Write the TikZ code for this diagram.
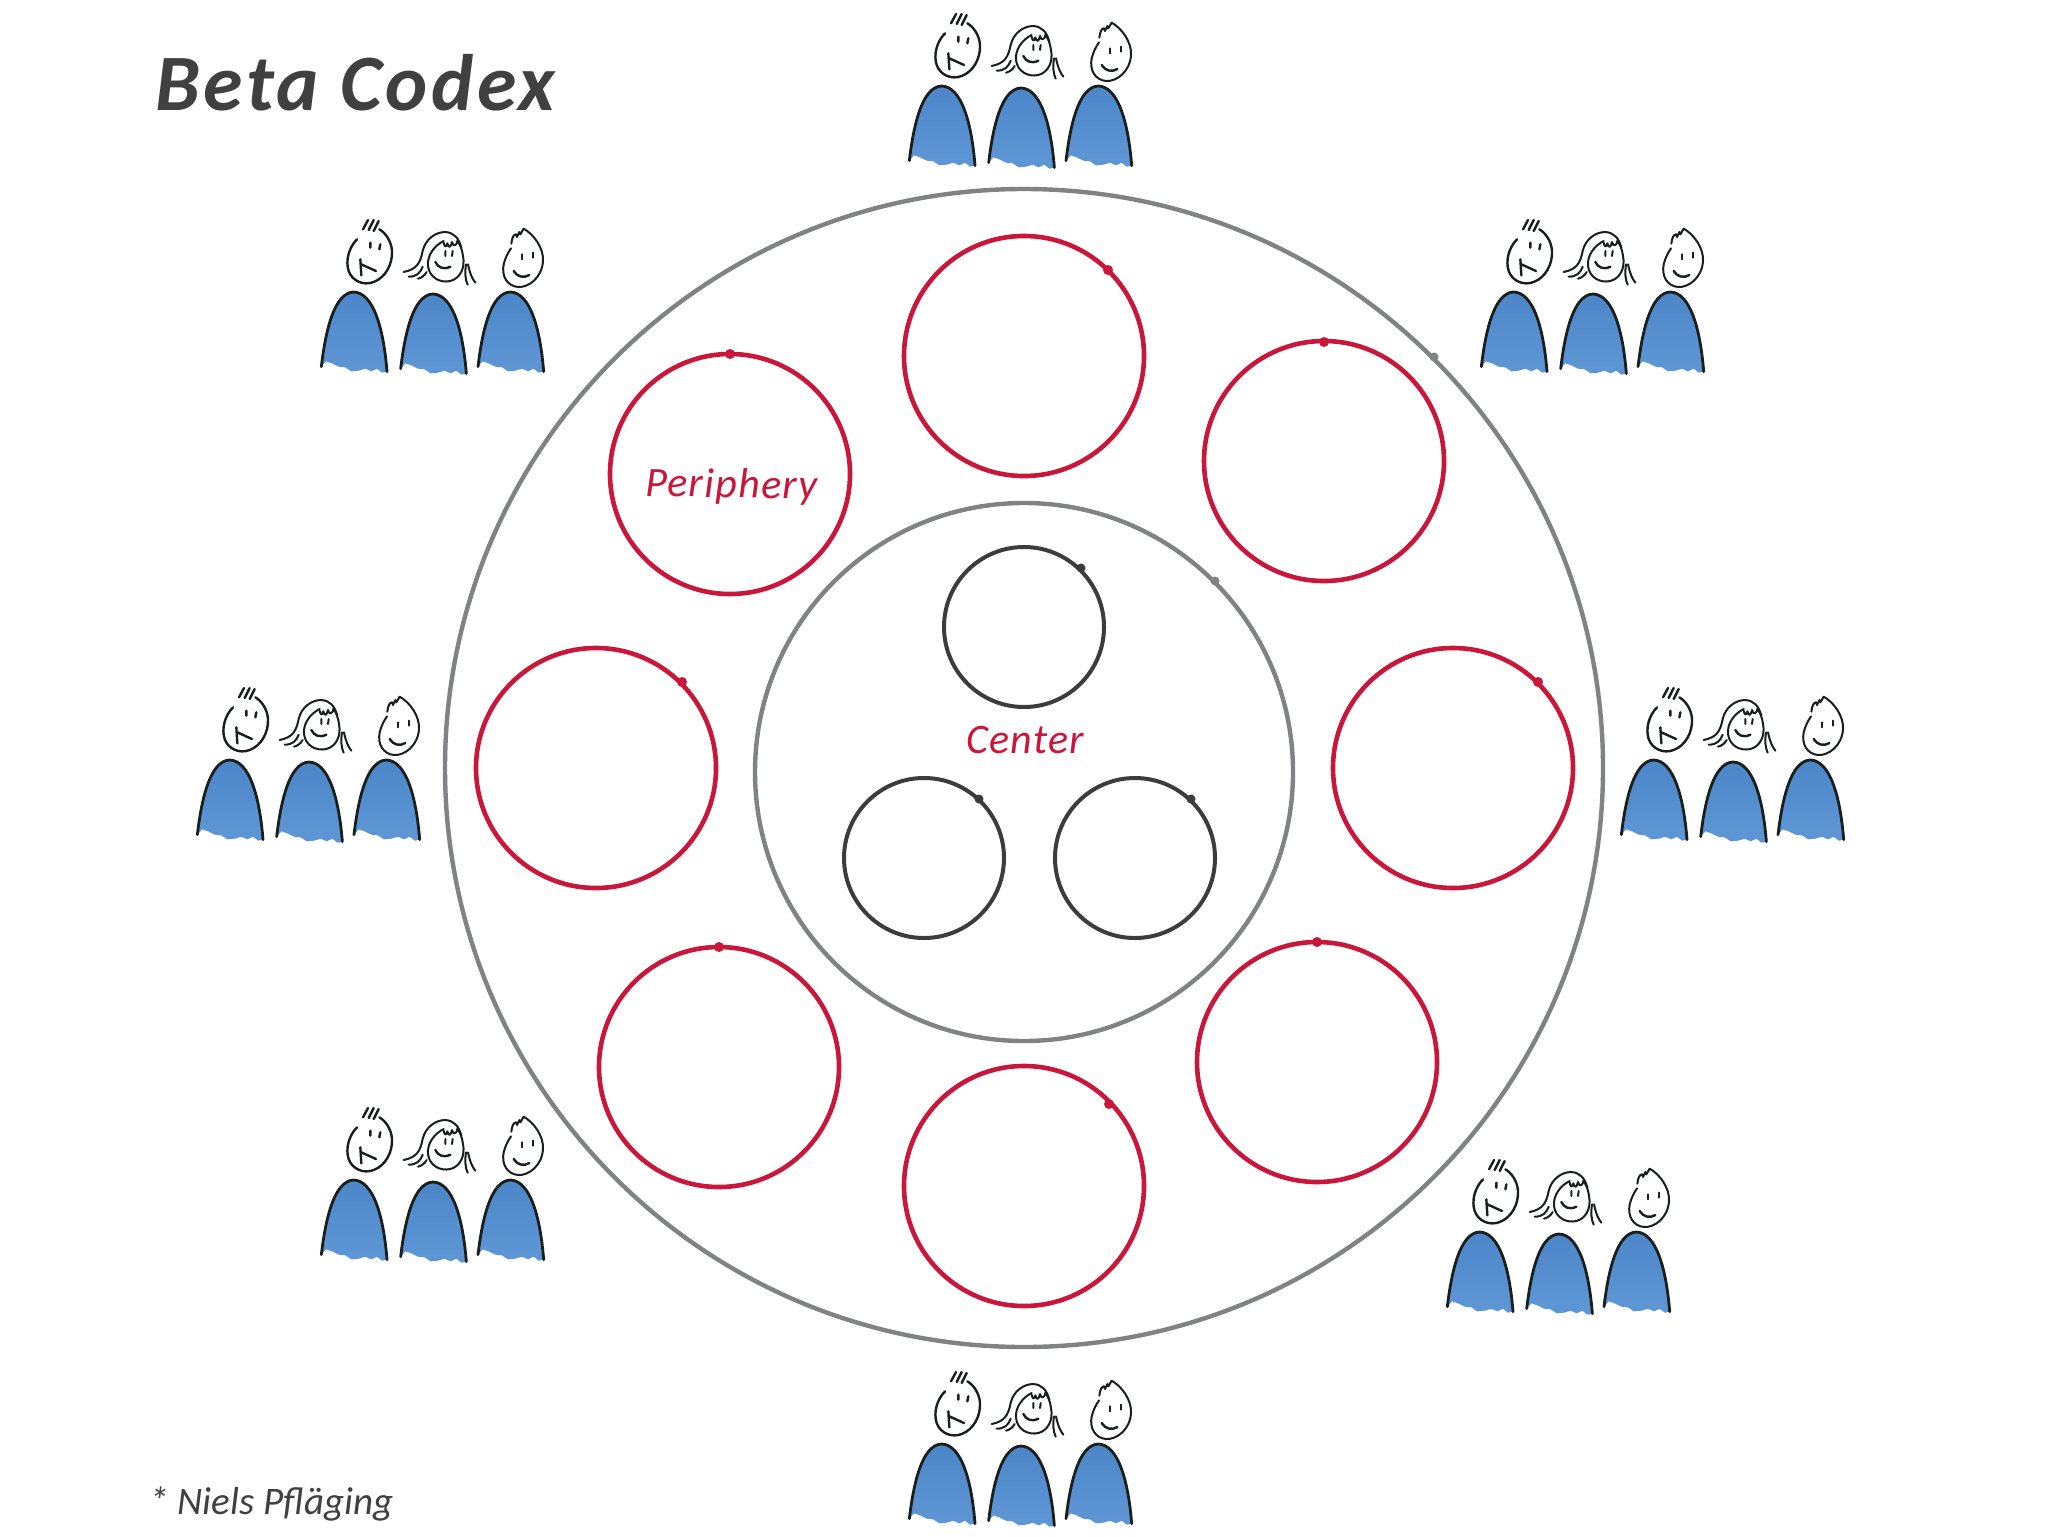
\documentclass[tikz,border=0pt]{standalone}
\usepackage{fontspec}
\setmainfont{Carlito}
\newfontfamily\handwide[LetterSpace=4.5]{Carlito}
\newfontfamily\handmid[LetterSpace=3]{Carlito}
\definecolor{ringred}{HTML}{C8173A}
\definecolor{ringgray}{HTML}{808284}
\definecolor{ringdark}{HTML}{3C3C3E}
\definecolor{titlegray}{HTML}{404040}
\definecolor{inkblack}{HTML}{1A1F1C}
\definecolor{bodyblue}{HTML}{4C86C8}
\definecolor{bodylight}{HTML}{5F97D6}
\tikzset{
  bigring/.style={circle,draw=ringgray,line width=2.2pt,inner sep=0pt},
  redring/.style={circle,draw=ringred,line width=2.3pt,minimum size=120pt,inner sep=0pt},
  darkring/.style={circle,draw=ringdark,line width=2pt,minimum size=80pt,inner sep=0pt},
  ink/.style={draw=inkblack,line width=1.2pt,line cap=round,line join=round},
  thinink/.style={draw=inkblack,line width=1pt,line cap=round,line join=round},
  hand/.style={inner sep=0pt,anchor=base west},
}
\newcommand{\onebody}[2]{%
  \begin{scope}[shift={(#1,#2)}]
    \path[top color=bodyblue,bottom color=bodylight]
      (58,482) .. controls (70,380) and (95,260) .. (155,258)
      .. controls (215,260) and (245,370) .. (255,497)
      -- (240,500) -- (225,488) -- (208,496) -- (190,488) -- (170,494) -- (148,496)
      -- (130,484) -- (110,482) -- (90,472) -- (72,466) -- cycle;
    \draw[ink,line width=1.4pt] (58,482) .. controls (70,380) and (95,260) .. (155,258)
      .. controls (215,260) and (245,370) .. (255,497);
  \end{scope}}
\newcommand{\persongroup}[2]{%
  \begin{scope}[shift={(890+#1,#2)},x=0.16667pt,y=-0.16667pt]
    \onebody{0}{0}\onebody{238}{6}\onebody{470}{0}
    % first face
    \draw[ink] (165,100) .. controls (140,125) and (130,165) .. (140,195)
      .. controls (150,225) and (185,240) .. (215,228)
      .. controls (250,215) and (272,175) .. (270,135)
      .. controls (268,105) and (250,80) .. (232,70);
    \draw[ink] (205,110) -- (205,125) (235,115) -- (232,130);
    \draw[ink] (175,160) -- (178,208) (178,175) -- (222,195);
    \draw[ink] (183,70) -- (198,42) (200,72) -- (215,42) (215,75) -- (230,45);
    % second face
    \draw[thinink] (425,105) .. controls (395,120) and (375,150) .. (378,180)
      .. controls (382,215) and (415,232) .. (445,225)
      .. controls (475,217) and (490,185) .. (483,150)
      .. controls (480,130) and (475,115) .. (465,105);
    \draw[thinink] (305,198) .. controls (345,190) and (355,170) .. (362,135)
      .. controls (370,100) and (400,78) .. (430,78)
      .. controls (455,80) and (470,95) .. (478,125);
    \draw[thinink] (320,212) .. controls (345,212) and (355,200) .. (362,182)
      (348,218) .. controls (360,215) and (368,208) .. (374,198);
    \draw[thinink] (492,175) .. controls (488,200) and (490,222) .. (497,236)
      (498,175) .. controls (503,200) and (510,218) .. (520,230);
    \draw[thinink] (425,110) .. controls (428,125) and (432,125) .. (436,112)
      .. controls (440,128) and (446,125) .. (450,108) .. controls (454,122) and (460,122) .. (468,105);
    \draw[thinink] (430,135) -- (430,150) (452,135) -- (450,150);
    \draw[ink] (400,168) .. controls (408,185) and (425,192) .. (445,182);
    % third face
    \draw[thinink] (665,68) .. controls (695,85) and (725,125) .. (723,165)
      .. controls (720,215) and (680,245) .. (648,243)
      .. controls (615,240) and (598,210) .. (605,175)
      .. controls (610,155) and (618,140) .. (627,127);
    \draw[thinink] (628,113) .. controls (630,95) and (635,85) .. (642,85)
      -- (645,93) -- (652,78) -- (655,85) -- (665,68);
    \draw[thinink] (660,145) -- (660,160) (693,140) -- (693,155);
    \draw[ink] (635,195) .. controls (645,212) and (665,218) .. (682,207);
  \end{scope}}
\begin{document}
\begin{tikzpicture}[x=0.5pt,y=-0.5pt]
\useasboundingbox[fill=white] (0,0) rectangle (2048,1536);
\node[bigring,minimum size=579pt] (outer) at (1024,768) {};
\node[bigring,minimum size=269pt] (inner) at (1024,772) {};
\node[redring] (p1) at (1024,356) {};
\node[redring] (p2) at (1324,461) {};
\node[redring] (p3) at (1453,768) {};
\node[redring] (p4) at (1317,1062) {};
\node[redring] (p5) at (1024,1186) {};
\node[redring] (p6) at (719,1067) {};
\node[redring] (p7) at (596,768) {};
\node[redring] (p8) at (730,474) {};
\node[darkring] (c1) at (1024,627) {};
\node[darkring] (c2) at (924,858) {};
\node[darkring] (c3) at (1135,858) {};
% pen-start blobs on the rings
\fill[ringred] (1108,270) circle (5) (1324,342) circle (5) (1538,682) circle (5) (1317,942) circle (5)
  (1109,1104) circle (5) (719,947) circle (5) (682,682) circle (5) (730,354) circle (5);
\fill[ringdark] (1081,568) circle (4.5) (979,799) circle (4.5) (1191,799) circle (4.5);
\fill[ringgray] (1434,357) circle (4.5) (1215,581) circle (4.5);
% people
\persongroup{0}{0}
\persongroup{-588}{206}
\persongroup{572}{206}
\persongroup{-712}{674}
\persongroup{712}{674}
\persongroup{-588}{1094}
\persongroup{538}{1146}
\persongroup{0}{1358}
% texts
\node[hand,text=titlegray,font=\handwide\bfseries\itshape\fontsize{40pt}{40pt}\selectfont] (title) at (155,111) {Beta Codex};
\node[hand,text=titlegray,font=\itshape\fontsize{19.5pt}{19.5pt}\selectfont] (credit) at (149,1514) {* Niels Pfläging};
\node[hand,text=ringred,font=\handmid\itshape\fontsize{21pt}{21pt}\selectfont,rotate=-1] (periphery) at (645,496) {Periphery};
\node[hand,text=ringred,font=\handmid\itshape\fontsize{21pt}{21pt}\selectfont] (center) at (966,753) {Center};
\end{tikzpicture}
\end{document}
